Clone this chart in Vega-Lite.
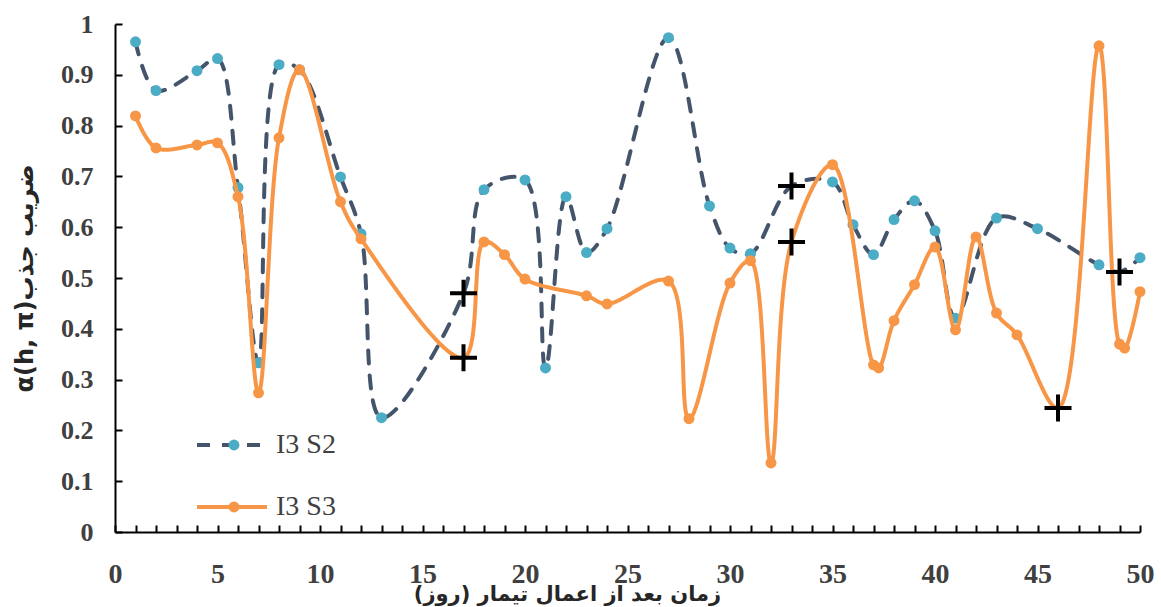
{
  "$schema": "https://vega.github.io/schema/vega-lite/v6.json",
  "width": 1025,
  "height": 508,
  "autosize": {"type": "none"},
  "padding": {"left": 115, "top": 24, "right": 21, "bottom": 75},
  "background": "white",
  "config": {"view": {"stroke": null}},
  "data": {"values": [
    {"series": "I3 S2", "marker": "m2", "x": 1, "y": 0.965, "shape": "circle"},
    {"series": "I3 S2", "marker": "m2", "x": 2, "y": 0.869, "shape": "circle"},
    {"series": "I3 S2", "marker": "m2", "x": 4, "y": 0.908, "shape": "circle"},
    {"series": "I3 S2", "marker": "m2", "x": 5, "y": 0.932, "shape": "circle"},
    {"series": "I3 S2", "marker": "m2", "x": 6, "y": 0.678, "shape": "circle"},
    {"series": "I3 S2", "marker": "m2", "x": 7, "y": 0.333, "shape": "circle"},
    {"series": "I3 S2", "marker": "m2", "x": 8, "y": 0.92, "shape": "circle"},
    {"series": "I3 S2", "marker": "m2", "x": 9, "y": 0.91, "shape": "circle"},
    {"series": "I3 S2", "marker": "m2", "x": 11, "y": 0.699, "shape": "circle"},
    {"series": "I3 S2", "marker": "m2", "x": 12, "y": 0.587, "shape": "circle"},
    {"series": "I3 S2", "marker": "m2", "x": 13, "y": 0.225, "shape": "circle"},
    {"series": "I3 S2", "marker": "m2", "x": 17, "y": 0.47, "shape": "cross"},
    {"series": "I3 S2", "marker": "m2", "x": 18, "y": 0.674, "shape": "circle"},
    {"series": "I3 S2", "marker": "m2", "x": 20, "y": 0.693, "shape": "circle"},
    {"series": "I3 S2", "marker": "m2", "x": 21, "y": 0.323, "shape": "circle"},
    {"series": "I3 S2", "marker": "m2", "x": 22, "y": 0.66, "shape": "circle"},
    {"series": "I3 S2", "marker": "m2", "x": 23, "y": 0.55, "shape": "circle"},
    {"series": "I3 S2", "marker": "m2", "x": 24, "y": 0.597, "shape": "circle"},
    {"series": "I3 S2", "marker": "m2", "x": 27, "y": 0.973, "shape": "circle"},
    {"series": "I3 S2", "marker": "m2", "x": 29, "y": 0.642, "shape": "circle"},
    {"series": "I3 S2", "marker": "m2", "x": 30, "y": 0.559, "shape": "circle"},
    {"series": "I3 S2", "marker": "m2", "x": 31, "y": 0.548, "shape": "circle"},
    {"series": "I3 S2", "marker": "m2", "x": 33, "y": 0.681, "shape": "cross"},
    {"series": "I3 S2", "marker": "m2", "x": 35, "y": 0.689, "shape": "circle"},
    {"series": "I3 S2", "marker": "m2", "x": 36, "y": 0.605, "shape": "circle"},
    {"series": "I3 S2", "marker": "m2", "x": 37, "y": 0.546, "shape": "circle"},
    {"series": "I3 S2", "marker": "m2", "x": 38, "y": 0.615, "shape": "circle"},
    {"series": "I3 S2", "marker": "m2", "x": 39, "y": 0.652, "shape": "circle"},
    {"series": "I3 S2", "marker": "m2", "x": 40, "y": 0.593, "shape": "circle"},
    {"series": "I3 S2", "marker": "m2", "x": 41, "y": 0.421, "shape": "circle"},
    {"series": "I3 S2", "marker": "m2", "x": 43, "y": 0.618, "shape": "circle"},
    {"series": "I3 S2", "marker": "m2", "x": 45, "y": 0.597, "shape": "circle"},
    {"series": "I3 S2", "marker": "m2", "x": 48, "y": 0.526, "shape": "circle"},
    {"series": "I3 S2", "marker": "m2", "x": 49, "y": 0.512, "shape": "cross"},
    {"series": "I3 S2", "marker": "m2", "x": 50, "y": 0.54, "shape": "circle"},
    {"series": "I3 S3", "marker": "m3", "x": 1, "y": 0.819, "shape": "circle"},
    {"series": "I3 S3", "marker": "m3", "x": 2, "y": 0.756, "shape": "circle"},
    {"series": "I3 S3", "marker": "m3", "x": 4, "y": 0.762, "shape": "circle"},
    {"series": "I3 S3", "marker": "m3", "x": 5, "y": 0.766, "shape": "circle"},
    {"series": "I3 S3", "marker": "m3", "x": 6, "y": 0.66, "shape": "circle"},
    {"series": "I3 S3", "marker": "m3", "x": 7, "y": 0.274, "shape": "circle"},
    {"series": "I3 S3", "marker": "m3", "x": 8, "y": 0.776, "shape": "circle"},
    {"series": "I3 S3", "marker": "m3", "x": 9, "y": 0.91, "shape": "circle"},
    {"series": "I3 S3", "marker": "m3", "x": 11, "y": 0.65, "shape": "circle"},
    {"series": "I3 S3", "marker": "m3", "x": 12, "y": 0.577, "shape": "circle"},
    {"series": "I3 S3", "marker": "m3", "x": 17, "y": 0.343, "shape": "cross"},
    {"series": "I3 S3", "marker": "m3", "x": 18, "y": 0.571, "shape": "circle"},
    {"series": "I3 S3", "marker": "m3", "x": 19, "y": 0.546, "shape": "circle"},
    {"series": "I3 S3", "marker": "m3", "x": 20, "y": 0.498, "shape": "circle"},
    {"series": "I3 S3", "marker": "m3", "x": 23, "y": 0.465, "shape": "circle"},
    {"series": "I3 S3", "marker": "m3", "x": 24, "y": 0.449, "shape": "circle"},
    {"series": "I3 S3", "marker": "m3", "x": 27, "y": 0.494, "shape": "circle"},
    {"series": "I3 S3", "marker": "m3", "x": 28, "y": 0.223, "shape": "circle"},
    {"series": "I3 S3", "marker": "m3", "x": 30, "y": 0.49, "shape": "circle"},
    {"series": "I3 S3", "marker": "m3", "x": 31, "y": 0.534, "shape": "circle"},
    {"series": "I3 S3", "marker": "m3", "x": 32, "y": 0.136, "shape": "circle"},
    {"series": "I3 S3", "marker": "m3", "x": 33, "y": 0.571, "shape": "cross"},
    {"series": "I3 S3", "marker": "m3", "x": 35, "y": 0.723, "shape": "circle"},
    {"series": "I3 S3", "marker": "m3", "x": 37, "y": 0.329, "shape": "circle"},
    {"series": "I3 S3", "marker": "m3", "x": 37.25, "y": 0.323, "shape": "circle"},
    {"series": "I3 S3", "marker": "m3", "x": 38, "y": 0.416, "shape": "circle"},
    {"series": "I3 S3", "marker": "m3", "x": 39, "y": 0.487, "shape": "circle"},
    {"series": "I3 S3", "marker": "m3", "x": 40, "y": 0.561, "shape": "circle"},
    {"series": "I3 S3", "marker": "m3", "x": 41, "y": 0.398, "shape": "circle"},
    {"series": "I3 S3", "marker": "m3", "x": 42, "y": 0.581, "shape": "circle"},
    {"series": "I3 S3", "marker": "m3", "x": 43, "y": 0.431, "shape": "circle"},
    {"series": "I3 S3", "marker": "m3", "x": 44, "y": 0.388, "shape": "circle"},
    {"series": "I3 S3", "marker": "m3", "x": 46, "y": 0.244, "shape": "cross"},
    {"series": "I3 S3", "marker": "m3", "x": 48, "y": 0.957, "shape": "circle"},
    {"series": "I3 S3", "marker": "m3", "x": 49, "y": 0.37, "shape": "circle"},
    {"series": "I3 S3", "marker": "m3", "x": 49.25, "y": 0.362, "shape": "circle"},
    {"series": "I3 S3", "marker": "m3", "x": 50, "y": 0.473, "shape": "circle"}
  ]},
  "encoding": {
    "x": {
      "field": "x", "type": "quantitative",
      "scale": {"domain": [0, 50], "nice": false, "zero": false},
      "axis": {
        "values": [0,1,2,3,4,5,6,7,8,9,10,11,12,13,14,15,16,17,18,19,20,21,22,23,24,25,26,27,28,29,30,31,32,33,34,35,36,37,38,39,40,41,42,43,44,45,46,47,48,49,50],
        "labelExpr": "datum.value % 5 === 0 ? datum.label : ''",
        "grid": false,
        "tickSize": -7, "tickWidth": 2, "tickColor": "black",
        "domainColor": "black", "domainWidth": 2,
        "labelFont": "Liberation Serif", "labelFontWeight": "bold", "labelFontSize": 28,
        "labelColor": "#404040", "labelPadding": 35, "labelOverlap": false, "labelFlush": false,
        "title": "زمان بعد از اعمال تیمار (روز)",
        "titleFont": "DejaVu Sans", "titleFontWeight": "bold", "titleFontSize": 21,
        "titleColor": "#262626", "titleX": 452, "titleY": 62,
        "titleBaseline": "middle", "titleAlign": "center", "titleAnchor": null
      }
    },
    "y": {
      "field": "y", "type": "quantitative",
      "scale": {"domain": [0, 1], "nice": false, "zero": false},
      "axis": {
        "values": [0, 0.1, 0.2, 0.3, 0.4, 0.5, 0.6, 0.7, 0.8, 0.9, 1],
        "format": "~g",
        "grid": false,
        "tickSize": -7, "tickWidth": 2, "tickColor": "black",
        "domainColor": "black", "domainWidth": 2,
        "labelFont": "Liberation Serif", "labelFontWeight": "bold", "labelFontSize": 26,
        "labelColor": "#404040", "labelPadding": 29, "labelOverlap": false, "labelFlush": false,
        "title": "α(h, π)ضریب جذب",
        "titleFont": "DejaVu Sans", "titleFontWeight": "bold", "titleFontSize": 24,
        "titleColor": "#262626", "titleX": -90, "titleY": 254, "titleAngle": 270,
        "titleBaseline": "middle", "titleAlign": "center", "titleAnchor": null
      }
    }
  },
  "layer": [
    {
      "transform": [{"filter": "datum.series === 'I3 S2'"}],
      "mark": {"type": "line", "interpolate": "catmull-rom", "strokeWidth": 4, "strokeCap": "round"},
      "encoding": {
        "stroke": {"field": "series", "type": "nominal",
          "scale": {"domain": ["I3 S2", "I3 S3"], "range": ["#44546A", "#F79646"]},
          "legend": {"orient": "none", "legendX": 103, "legendY": 407, "title": null,
            "symbolType": "M-5,0H5", "symbolSize": 196, "symbolStrokeWidth": 4,
            "labelFont": "Liberation Serif", "labelFontSize": 28, "labelColor": "#404040",
            "labelOffset": 30, "rowPadding": 34}},
        "strokeDash": {"field": "series", "type": "nominal",
          "scale": {"domain": ["I3 S2", "I3 S3"], "range": [[13, 12], [1, 0]]},
          "legend": {"orient": "none", "legendX": 103, "legendY": 407, "title": null,
            "symbolType": "M-5,0H5", "symbolSize": 196, "symbolStrokeWidth": 4,
            "labelFont": "Liberation Serif", "labelFontSize": 28, "labelColor": "#404040",
            "labelOffset": 30, "rowPadding": 34}}
      }
    },
    {
      "transform": [{"filter": "datum.series === 'I3 S2' && datum.shape === 'circle'"}],
      "mark": {"type": "point", "filled": true, "shape": "circle", "size": 120, "opacity": 1, "strokeWidth": 0},
      "encoding": {
        "fill": {"field": "marker", "type": "nominal",
          "scale": {"domain": ["m2", "m3"], "range": ["#4BACC6", "#F79646"]},
          "legend": {"orient": "none", "legendX": 105, "legendY": 407, "title": null,
            "symbolType": "circle", "symbolSize": 120, "symbolStrokeWidth": 0,
            "labelFont": "Liberation Serif", "labelFontSize": 28, "labelOpacity": 0,
            "labelOffset": 30, "rowPadding": 34}}
      }
    },
    {
      "transform": [{"filter": "datum.series === 'I3 S3'"}],
      "mark": {"type": "line", "interpolate": "catmull-rom", "strokeWidth": 4, "strokeCap": "round"},
      "encoding": {
        "stroke": {"field": "series", "type": "nominal"},
        "strokeDash": {"field": "series", "type": "nominal"}
      }
    },
    {
      "transform": [{"filter": "datum.series === 'I3 S3' && datum.shape === 'circle'"}],
      "mark": {"type": "point", "filled": true, "shape": "circle", "size": 120, "opacity": 1, "strokeWidth": 0},
      "encoding": {
        "fill": {"field": "marker", "type": "nominal"}
      }
    },
    {
      "transform": [{"filter": "datum.shape === 'cross'"}],
      "mark": {"type": "point", "filled": false, "shape": "M-1,0H1M0,-1V1", "size": 729, "color": "black", "strokeWidth": 4, "opacity": 1},
      "encoding": {}
    }
  ]
}
